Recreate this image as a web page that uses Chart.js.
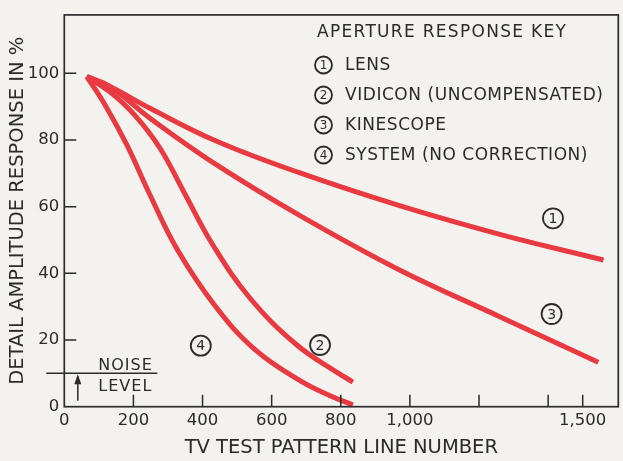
<!DOCTYPE html>
<html>
<head>
<meta charset="utf-8">
<title>Aperture response</title>
<script src="https://cdn.jsdelivr.net/npm/chart.js@4.4.1/dist/chart.umd.min.js"></script>
<style>
  html,body{margin:0;padding:0;background:#f3f2ee;}
  #wrap{width:623px;height:461px;}
</style>
</head>
<body>
<div id="wrap"><canvas id="chart" width="623" height="461"></canvas></div>
<script>
// response curves, x = TV test pattern line number, y = % response
const lensX = [65, 132, 248, 441, 682, 970, 1260, 1560];
const lensY = [99, 96, 89.5, 79.6, 70.1, 60.3, 51.7, 44];

const vidiconX = [65, 132, 205, 277, 349, 430, 537, 673, 789, 835];
const vidiconY = [99, 94.4, 87.3, 77.5, 63.8, 48.5, 32.6, 18.5, 10.3, 7.4];

const kinescopeX = [65, 132, 248, 441, 682, 970, 1260, 1545];
const kinescopeY = [99, 96, 86.5, 72.5, 57.3, 41, 27, 13.3];

const systemX = [65, 118, 181, 248, 326, 436, 552, 682, 769, 835];
const systemY = [99, 90.5, 78.5, 63.5, 47.3, 30.3, 17.1, 7.8, 3.3, 0.5];

const xTicks = [0, 200, 400, 600, 800, 1000, 1200, 1400, 1500];
const xLabeled = [0, 200, 400, 600, 800, 1000, 1500];
const yTicks = [0, 20, 40, 60, 80, 100];

const noiseLevel = 10;

const keyTitle = 'APERTURE RESPONSE KEY';
const keyItems = ['LENS', 'VIDICON (UNCOMPENSATED)', 'KINESCOPE', 'SYSTEM (NO CORRECTION)'];

// circled curve numbers, placed in data units
const tagNums = ['1', '2', '3', '4'];
const tagX = [1414, 740, 1410, 395];
const tagY = [56.5, 18.5, 27.8, 18.3];

const INK = '#2b2b2b';
const RED = 'rgb(232,58,64)';
const FONT = "'DejaVu Sans', sans-serif";

function pts(xs, ys){ return xs.map((x,i)=>({x:x, y:ys[i]})); }

function circled(ctx, cx, cy, r, txt, size){
  ctx.beginPath();
  ctx.arc(cx, cy, r, 0, Math.PI*2);
  ctx.lineWidth = 1.8;
  ctx.strokeStyle = INK;
  ctx.stroke();
  ctx.fillStyle = INK;
  ctx.font = size + 'px ' + FONT;
  ctx.textAlign = 'center';
  ctx.textBaseline = 'middle';
  ctx.fillText(txt, cx, cy + 1);
}

const paper = {
  id:'paper',
  beforeDraw(chart){
    const ctx = chart.ctx;
    ctx.save();
    ctx.fillStyle = '#f3f2ee';
    ctx.fillRect(0, 0, chart.width, chart.height);
    ctx.restore();
  }
};

const frame = {
  id:'frame',
  afterDraw(chart){
    const ctx = chart.ctx, a = chart.chartArea;
    const xs = chart.scales.x, ys = chart.scales.y;
    ctx.save();
    ctx.strokeStyle = INK;
    ctx.lineWidth = 1.7;
    ctx.strokeRect(a.left, a.top, a.right - a.left, a.bottom - a.top);

    // inward tick marks
    ctx.lineWidth = 1.5;
    ctx.beginPath();
    xTicks.forEach(v=>{
      if(v === 0) return;
      const px = xs.getPixelForValue(v);
      ctx.moveTo(px, a.bottom);
      ctx.lineTo(px, a.bottom - 12);
    });
    yTicks.forEach(v=>{
      if(v === 0) return;
      const py = ys.getPixelForValue(v);
      ctx.moveTo(a.left, py);
      ctx.lineTo(a.left + 12, py);
    });
    ctx.stroke();

    // noise level marker
    const ny = ys.getPixelForValue(noiseLevel);
    ctx.lineWidth = 1.5;
    ctx.beginPath();
    ctx.moveTo(a.left - 18, ny);
    ctx.lineTo(a.left + 93, ny);
    const ax = a.left + 13.5;
    ctx.moveTo(ax, a.bottom - 6);
    ctx.lineTo(ax, ny + 3);
    ctx.stroke();
    ctx.fillStyle = INK;
    ctx.beginPath();
    ctx.moveTo(ax, ny + 1);
    ctx.lineTo(ax - 3.5, ny + 11);
    ctx.lineTo(ax + 3.5, ny + 11);
    ctx.closePath();
    ctx.fill();

    ctx.font = '16px ' + FONT;
    ctx.textAlign = 'left';
    ctx.textBaseline = 'alphabetic';
    ctx.letterSpacing = '1px';
    ctx.fillText('NOISE', a.left + 34, ny - 3);
    ctx.fillText('LEVEL', a.left + 34, ny + 18);

    // key in the upper right
    ctx.letterSpacing = '1.3px';
    ctx.font = '17px ' + FONT;
    ctx.fillText(keyTitle, 317, 37);
    keyItems.forEach((t,i)=>{
      const y = 65 + i*30;
      ctx.letterSpacing = '0px';
      circled(ctx, 323.5, y, 8.5, String(i+1), 12);
      ctx.fillStyle = INK;
      ctx.font = '17px ' + FONT;
      ctx.textAlign = 'left';
      ctx.textBaseline = 'middle';
      ctx.letterSpacing = '0.55px';
      ctx.fillText(t, 345, y + 1);
    });
    ctx.letterSpacing = '0px';

    // curve numbers
    tagNums.forEach((n,i)=>{
      circled(ctx, xs.getPixelForValue(tagX[i]), ys.getPixelForValue(tagY[i]), 10, n, 14);
    });
    ctx.restore();
  }
};

function line(label, xs, ys){
  return {
    label:label,
    data:pts(xs, ys),
    borderColor:RED,
    borderWidth:5,
    borderCapStyle:'butt',
    borderJoinStyle:'round',
    pointRadius:0,
    fill:false,
    tension:0.4,
    clip:8
  };
}

new Chart(document.getElementById('chart'), {
  type:'line',
  data:{
    datasets:[
      line('Lens', lensX, lensY),
      line('Vidicon', vidiconX, vidiconY),
      line('Kinescope', kinescopeX, kinescopeY),
      line('System', systemX, systemY)
    ]
  },
  options:{
    responsive:false,
    animation:false,
    events:[],
    layout:{padding:{top:10.5, right:4.7, left:0, bottom:0}},
    plugins:{legend:{display:false}, tooltip:{enabled:false}},
    scales:{
      x:{
        type:'linear', min:0, max:1603,
        afterBuildTicks(scale){ scale.ticks = xTicks.map(v=>({value:v})); },
        afterFit(scale){ scale.height = 54.3; },
        grid:{display:false, drawTicks:false},
        border:{display:false},
        ticks:{
          autoSkip:false, maxRotation:0, padding:4,
          color:INK, font:{family:FONT, size:16.5},
          callback(v){ return xLabeled.includes(v) ? v.toLocaleString('en-US') : ''; }
        },
        title:{display:true, text:'TV TEST PATTERN LINE NUMBER', color:INK,
          font:{family:FONT, size:19.5}, padding:{top:0, bottom:1.3}}
      },
      y:{
        type:'linear', min:0, max:117.5,
        afterBuildTicks(scale){ scale.ticks = yTicks.map(v=>({value:v})); },
        afterFit(scale){ scale.width = 64.3; },
        grid:{display:false, drawTicks:false},
        border:{display:false},
        ticks:{padding:5, color:INK, font:{family:FONT, size:16.5}},
        title:{display:true, text:'DETAIL AMPLITUDE RESPONSE IN %', color:INK,
          font:{family:FONT, size:19.5}, padding:{top:6.6, bottom:0}}
      }
    }
  },
  plugins:[paper, frame]
});
</script>
</body>
</html>
